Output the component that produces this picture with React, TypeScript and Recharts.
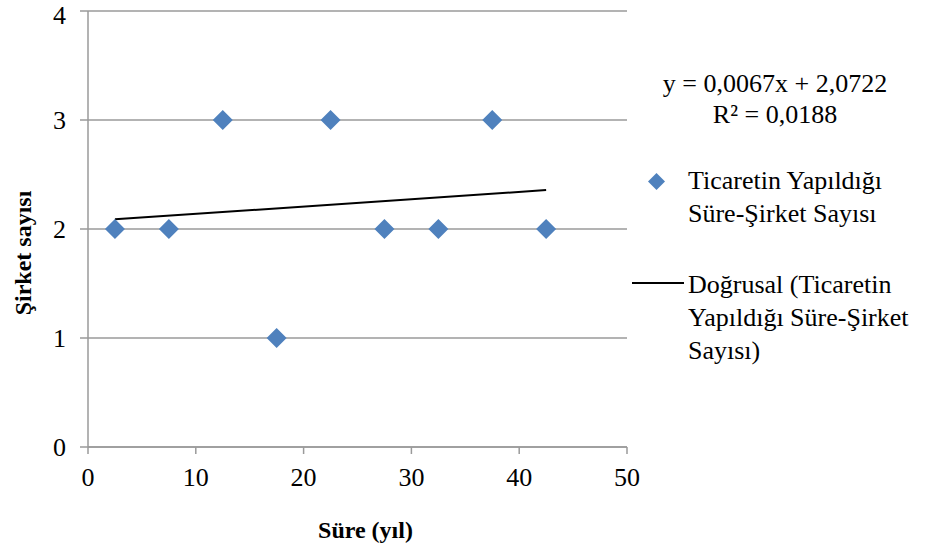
import { ScatterChart, Scatter, XAxis, YAxis, CartesianGrid } from "recharts";

const sureYil = [2.5, 7.5, 12.5, 17.5, 22.5, 27.5, 32.5, 37.5, 42.5];
const sirketSayisi = [2, 2, 3, 1, 3, 2, 2, 3, 2];

// trend line ends
const trendX = [2.5, 42.5];
const trendY = [2.089, 2.357];

const xTicks = [0, 10, 20, 30, 40, 50];
const yTicks = [0, 1, 2, 3, 4];

const seriesName = ["Ticaretin Yapıldığı", "Süre-Şirket Sayısı"];
const trendName = ["Doğrusal (Ticaretin", "Yapıldığı Süre-Şirket", "Sayısı)"];
const equation = ["y = 0,0067x + 2,0722", "R² = 0,0188"];

const points = sureYil.map((x, i) => ({ x, y: sirketSayisi[i] }));
const trend = trendX.map((x, i) => ({ x, y: trendY[i] }));

const FONT = "Liberation Serif, DejaVu Serif";
const GRID = "#9a9a9a";
const BLUE = "#4F81BD";

function Diamond(props: any) {
  const { cx, cy } = props;
  const r = 10;
  return (
    <polygon
      points={`${cx},${cy - r} ${cx + r},${cy} ${cx},${cy + r} ${cx - r},${cy}`}
      fill={BLUE}
    />
  );
}

export default function App() {
  const tick = { fontSize: 26, fill: "#000", fontFamily: FONT };
  return (
    <div style={{ position: "absolute", left: 0, top: 0, width: 929, height: 548, fontFamily: FONT }}>
      <ScatterChart width={929} height={548} margin={{ top: 11, right: 302, bottom: 0, left: 0 }} style={{ fontFamily: FONT }}>
        <CartesianGrid vertical={false} stroke={GRID} strokeWidth={1.5} />
        <XAxis
          type="number"
          dataKey="x"
          domain={[0, 50]}
          ticks={xTicks}
          height={101}
          tick={tick}
          tickSize={7}
          tickMargin={14}
          tickLine={{ stroke: GRID, strokeWidth: 1.5 }}
          axisLine={{ stroke: GRID, strokeWidth: 1.5 }}
          label={(p: any) => {
            const vb = p.viewBox;
            return (
              <text
                x={vb.x + vb.width / 2 + 8}
                y={538}
                textAnchor="middle"
                style={{ fontFamily: FONT }}
                fontWeight="bold"
                fontSize={24}
                fill="#000"
              >
                Süre (yıl)
              </text>
            );
          }}
        />
        <YAxis
          type="number"
          dataKey="y"
          domain={[0, 4]}
          ticks={yTicks}
          width={88}
          tick={tick}
          tickSize={8}
          tickMargin={14}
          tickLine={{ stroke: GRID, strokeWidth: 1.5 }}
          axisLine={{ stroke: GRID, strokeWidth: 1.5 }}
          label={(p: any) => {
            const vb = p.viewBox;
            const cx = 31;
            const cy = vb.y + vb.height / 2 + 24;
            return (
              <text
                x={cx}
                y={cy}
                transform={`rotate(-90, ${cx}, ${cy})`}
                textAnchor="middle"
                style={{ fontFamily: FONT }}
                fontWeight="bold"
                fontSize={24}
                fill="#000"
              >
                Şirket sayısı
              </text>
            );
          }}
        />
        <Scatter
          data={trend}
          line={{ stroke: "#000", strokeWidth: 2 }}
          shape={() => <g />}
          isAnimationActive={false}
        />
        <Scatter data={points} shape={Diamond} isAnimationActive={false} />
      </ScatterChart>

      <div
        style={{
          position: "absolute",
          left: 625,
          top: 68,
          width: 300,
          textAlign: "center",
          fontSize: 26,
          lineHeight: "31px",
          whiteSpace: "nowrap",
        }}
      >
        {equation.map((l) => (
          <div key={l}>{l}</div>
        ))}
      </div>

      <svg style={{ position: "absolute", left: 0, top: 0 }} width={929} height={548} pointerEvents="none">
        <polygon points="656.5,173 665,181.5 656.5,190 648,181.5" fill={BLUE} />
        <line x1={632} y1={283} x2={684} y2={283} stroke="#000" strokeWidth={2} />
      </svg>

      <div
        style={{
          position: "absolute",
          left: 688,
          top: 164,
          fontSize: 26,
          lineHeight: "33px",
          whiteSpace: "nowrap",
        }}
      >
        {seriesName.map((l) => (
          <div key={l}>{l}</div>
        ))}
      </div>

      <div
        style={{
          position: "absolute",
          left: 688,
          top: 268,
          fontSize: 26,
          lineHeight: "33px",
          whiteSpace: "nowrap",
        }}
      >
        {trendName.map((l) => (
          <div key={l}>{l}</div>
        ))}
      </div>
    </div>
  );
}
